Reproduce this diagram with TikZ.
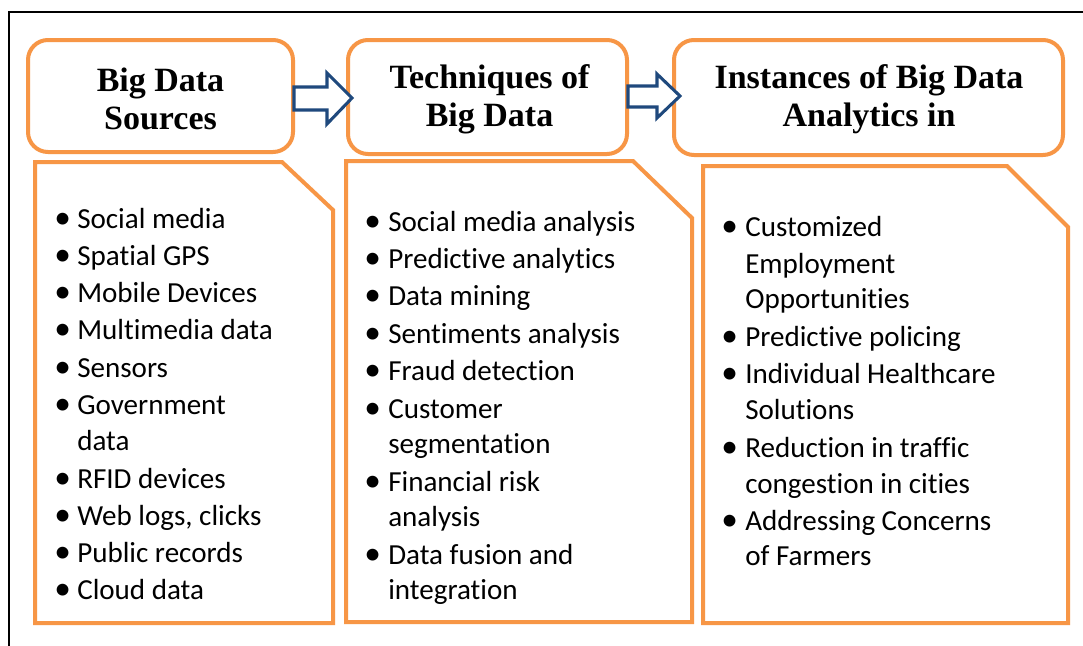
\documentclass[tikz,border=0pt]{standalone}
\usepackage{fontspec}
\setmainfont{Carlito}[Ligatures=NoCommon]
\newfontfamily\hdrfont{Liberation Serif}
\definecolor{boxorange}{HTML}{F79646}
\definecolor{arrowblue}{HTML}{1F497D}
\begin{document}
\begin{tikzpicture}[x=0.75pt,y=-0.75pt,
  hdr/.style={draw=boxorange, line width=3pt, rounded corners=15pt, fill=white, inner sep=0pt},
  hdrtext/.style={align=center, inner sep=0pt, font=\hdrfont\bfseries\fontsize{25.5}{28.5}\selectfont},
  listbox/.style={draw=boxorange, line width=3pt, line join=miter},
  blockarrow/.style={draw=arrowblue, line width=2.3pt, fill=white, line join=miter},
  txt/.style={anchor=base west, inner sep=0pt, font=\fontsize{21.8}{26}\selectfont},
  bul/.style={anchor=base west, inner sep=0pt, font=\fontsize{25}{26}\selectfont}]
\useasboundingbox (0,0) rectangle (1083,646);
\clip (0,0) rectangle (1083,646);
\fill[white] (0,0) rectangle (1083,646);
\draw[line width=1pt] (9,12) rectangle (1110,680);

% header boxes
\node[hdr, minimum width=198.75pt, minimum height=84pt] (h1) at (160.5,96) {};
\node[hdr, minimum width=209.25pt, minimum height=85.5pt] (h2) at (487.5,97) {};
\node[hdr, minimum width=291.75pt, minimum height=86.25pt] (h3) at (868.5,97.5) {};
\node[hdrtext] (t1) at (160.5,99) {Big Data\\Sources};
\node[hdrtext] (t2) at (489.5,99) {Techniques of\\Big Data};
\node[hdrtext] (t3) at (869,99) {Instances of Big Data\\Analytics in};

% block arrows between header boxes
\draw[blockarrow] (294,87) -- (327,87) -- (327,73) -- (352,98) -- (327,124) -- (327,110) -- (294,110) -- cycle;
\draw[blockarrow] (628,86) -- (657,86) -- (657,74) -- (680,96) -- (657,118) -- (657,107) -- (628,107) -- cycle;

% list boxes with cut corner
\draw[listbox] (35,162) -- (282,162) -- (333,210) -- (333,623) -- (35,623) -- cycle;
\draw[listbox] (346,161) -- (633,161) -- (692,218) -- (692,622) -- (346,622) -- cycle;
\draw[listbox] (703,166) -- (1007,166) -- (1068,227) -- (1068,623) -- (703,623) -- cycle;

% list 1
\foreach [count=\i] \bb/\yy/\lbl in {1/228/{Social media},1/265/{Spatial GPS},1/302/{Mobile Devices},
  1/339/{Multimedia data},1/377/{Sensors},1/414/{Government},0/450/{data},1/488/{RFID devices},
  1/525/{Web logs, clicks},1/562/{Public records},1/599/{Cloud data}}{
  \node[txt] (a\i) at (77,\yy) {\lbl};
  \ifnum\bb=1 \node[bul] (ab\i) at (54,\yy) {•}; \fi
}
% list 2
\foreach [count=\i] \bb/\yy/\lbl in {1/231/{Social media analysis},1/268/{Predictive analytics},1/305/{Data mining},
  1/343/{Sentiments analysis},1/380/{Fraud detection},1/418/{Customer},0/453/{segmentation},
  1/491/{Financial risk},0/526/{analysis},1/564/{Data fusion and},0/599/{integration}}{
  \node[txt] (b\i) at (388,\yy) {\lbl};
  \ifnum\bb=1 \node[bul] (bb\i) at (364,\yy) {•}; \fi
}
% list 3
\foreach [count=\i] \bb/\yy/\lbl in {1/236/{Customized},0/273/{Employment},0/308/{Opportunities},
  1/346/{Predictive policing},1/383/{Individual Healthcare},0/419/{Solutions},
  1/457/{Reduction in traffic},0/493/{congestion in cities},1/530/{Addressing Concerns},0/565/{of Farmers}}{
  \node[txt] (c\i) at (745,\yy) {\lbl};
  \ifnum\bb=1 \node[bul] (cb\i) at (721,\yy) {•}; \fi
}
\end{tikzpicture}
\end{document}
